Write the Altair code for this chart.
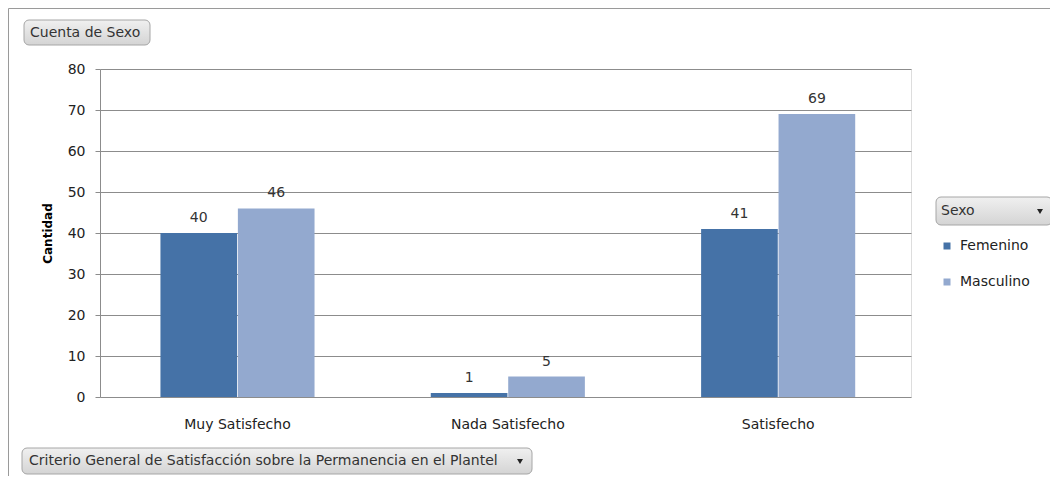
import altair as alt
import pandas as pd

categories = ["Muy Satisfecho", "Nada Satisfecho", "Satisfecho"]
sexes = ["Femenino", "Masculino"]
femenino = [40, 1, 41]
masculino = [46, 5, 69]
y_ticks = [0, 10, 20, 30, 40, 50, 60, 70, 80]
colors = ["#4572A7", "#93A9CF"]

button_top = ["Cuenta de Sexo"]
button_bottom = ["Criterio General de Satisfacción sobre la Permanencia en el Plantel"]
button_legend = ["Sexo"]
y_title = "Cantidad"

rows = []
for c, f, m in zip(categories, femenino, masculino):
    rows.append({"Criterio": c, "Sexo": "Femenino", "Cantidad": f})
    rows.append({"Criterio": c, "Sexo": "Masculino", "Cantidad": m})
df = pd.DataFrame(rows)

FONT = "DejaVu Sans"
TXT = "#222222"

x = alt.X(
    "Criterio:N", sort=categories,
    scale=alt.Scale(paddingInner=0.43, paddingOuter=0.215, align=0.52),
    axis=alt.Axis(title=None, labelAngle=0, ticks=False, domain=False,
                  labelPadding=20, labelFontSize=14, labelColor=TXT, labelFont=FONT, grid=False),
)
y = alt.Y(
    "Cantidad:Q", scale=alt.Scale(domain=[0, 80], nice=False),
    axis=alt.Axis(values=y_ticks, title=y_title, titleFont=FONT, titleFontSize=12,
                  titleFontWeight="bold", titleColor="#000", titleAngle=270,
                  titleX=-53, titleY=164, titleAlign="center", titleBaseline="middle",
                  labelFont=FONT, labelFontSize=14, labelColor=TXT, labelPadding=10,
                  tickSize=5, tickColor="#8c8c8c", domainColor="#8c8c8c",
                  gridColor="#8c8c8c", grid=True),
)
xoff = alt.XOffset("Sexo:N", sort=sexes, scale=alt.Scale(paddingInner=0.01))
color = alt.Color(
    "Sexo:N", sort=sexes, scale=alt.Scale(domain=sexes, range=colors),
    legend=alt.Legend(orient="none", legendX=840, legendY=170, title=None,
                      symbolType="square", symbolSize=49, symbolStrokeWidth=0,
                      labelFontSize=14, labelFont=FONT, labelColor=TXT,
                      rowPadding=22, labelOffset=6),
)

bars = alt.Chart(df).mark_bar().encode(x=x, xOffset=xoff, y=y, color=color)
labels = alt.Chart(df).mark_text(baseline="bottom", dy=-8, fontSize=14, font=FONT, color="#333").encode(
    x=x, xOffset=xoff, y=y, text="Cantidad:Q")

grad = alt.LinearGradient(gradient="linear", x1=0, y1=0, x2=0, y2=1,
                          stops=[alt.GradientStop(color="#f0f0f0", offset=0),
                                 alt.GradientStop(color="#d4d4d4", offset=1)])


def button(text_list, x0, x1, y0, y1, tx, arrow_x=None):
    d = pd.DataFrame({"t": text_list})
    rect = alt.Chart(d).mark_rect(cornerRadius=5, color=grad, stroke="#a6a6a6", strokeWidth=1).encode(
        x=alt.value(x0), x2=alt.value(x1), y=alt.value(y0), y2=alt.value(y1))
    txt = alt.Chart(d).mark_text(align="left", baseline="middle", font=FONT, fontSize=14, color="#333").encode(
        x=alt.value(tx), y=alt.value((y0 + y1) / 2), text="t:N")
    layers = [rect, txt]
    if arrow_x is not None:
        arr = alt.Chart(d).mark_point(shape="triangle-down", filled=True, size=36, color="#222", opacity=1).encode(
            x=alt.value(arrow_x), y=alt.value((y0 + y1) / 2 + 0.5))
        layers.append(arr)
    return layers


frame_d = pd.DataFrame({"k": [0]})
frame_top = alt.Chart(frame_d).mark_rule(color="#9a9a9a", strokeWidth=1).encode(
    x=alt.value(-91.5), x2=alt.value(1000), y=alt.value(-60.5))
frame_left = alt.Chart(frame_d).mark_rule(color="#9a9a9a", strokeWidth=1).encode(
    x=alt.value(-91.5), y=alt.value(-60.5), y2=alt.value(460))

layers = [frame_top, frame_left, bars, labels]
layers += button(button_top, -76, 50, -49, -24, -70)
layers += button(button_bottom, -78, 432, 379, 405, -71, arrow_x=420)
layers += button(button_legend, 836, 952, 128, 156, 841, arrow_x=940)

chart = alt.layer(*layers).properties(
    width=811, height=328,
    autosize=alt.AutoSizeParams(type="none"),
    padding={"left": 92, "top": 61, "right": 139, "bottom": 79},
).configure_view(stroke=None).configure(background="white")

chart.save("out.html", embed_options={"renderer": "svg", "actions": False})
